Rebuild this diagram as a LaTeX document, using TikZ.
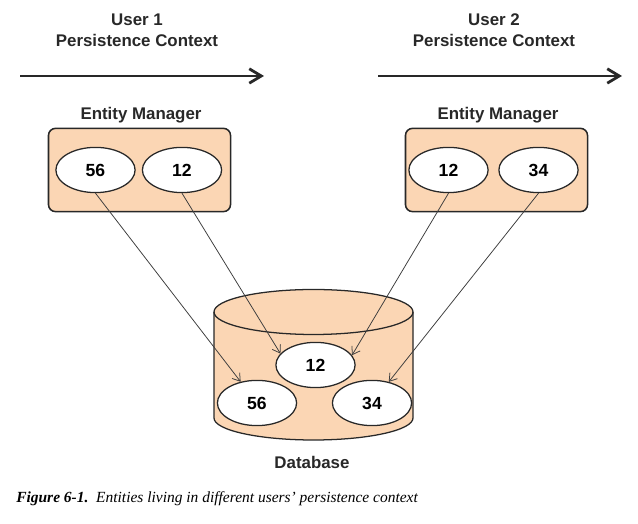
\documentclass[tikz,border=0pt]{standalone}
\usepackage{fontspec}
\setmainfont{Liberation Serif}
\setsansfont{Liberation Sans}
\usetikzlibrary{arrows.meta,positioning,shapes.geometric}
\definecolor{peach}{RGB}{251,214,180}
\definecolor{ink}{RGB}{40,40,40}
\tikzset{
  title/.style={font=\sffamily\bfseries\fontsize{12}{15}\selectfont,align=center,text=ink},
  manager/.style={draw=ink,fill=peach,rounded corners=5pt,line width=1.1pt,
    minimum width=4.55cm,minimum height=2.08cm},
  entity/.style={ellipse,draw=ink,fill=white,line width=0.9pt,inner sep=0pt,
    minimum width=1.98cm,minimum height=1.13cm,font=\sffamily\bfseries\fontsize{12.5}{14}\selectfont},
  timeline/.style={-{Straight Barb[length=3mm,width=3.6mm]},line width=2pt,draw=ink},
  link/.style={-{Straight Barb[length=1.8mm,width=2.4mm]},line width=0.55pt,draw=ink!90},
}

\begin{document}
\begin{tikzpicture}[x=0.025cm,y=0.025cm]
  \useasboundingbox (0,0) rectangle (638,524);
  % users and their timelines
  \foreach \n/\x/\a/\b in {1/137/20/264,2/494/378/622}{
    \node[title] (u\n) at (\x,494) {User \n\\Persistence Context};
    \coordinate (ts\n) at (\a,448);
    \coordinate (te\n) at (\b,448);
    \draw[timeline] (ts\n) -- (te\n);
  }
  % entity managers
  \node[manager] (em1) at (139.5,354) {};
  \node[manager] (em2) at (496.5,354) {};
  \node[title] (eml1) at (141,409) {Entity Manager};
  \node[title] (eml2) at (498,409) {Entity Manager};
  \node[entity] (a56) at (95.5,354) {56};
  \node[entity] (a12) at (182,354) {12};
  \node[entity] (b12) at (448.5,354) {12};
  \node[entity] (b34) at (538.5,354) {34};
  % database
  \draw[ink,fill=peach,line width=0.9pt] (214,212) -- (214,106)
    arc[start angle=180,end angle=360,x radius=99.5,y radius=22] -- (413,212)
    arc[start angle=0,end angle=180,x radius=99.5,y radius=22.5] -- cycle;
  \draw[ink,line width=0.9pt] (214,212) arc[start angle=180,end angle=360,x radius=99.5,y radius=22.5];
  \node[entity] (d12) at (315.5,159) {12};
  \node[entity] (d56) at (257,121) {56};
  \node[entity] (d34) at (372,121) {34};
  \node[title] (db) at (312,62) {Database};
  % entities in the database
  \draw[link] (a56.south) -- (d56);
  \draw[link] (a12.south) -- (d12.162);
  \draw[link] (b12.south) -- (d12.15);
  \draw[link] (b34.south) -- (d34);
  % caption
  \node[anchor=west,inner sep=0pt,font=\itshape\fontsize{11}{13}\selectfont] (cap) at (16,25)
    {\textbf{Figure 6-1.}\ \ Entities living in different users' persistence context};
\end{tikzpicture}
\end{document}
